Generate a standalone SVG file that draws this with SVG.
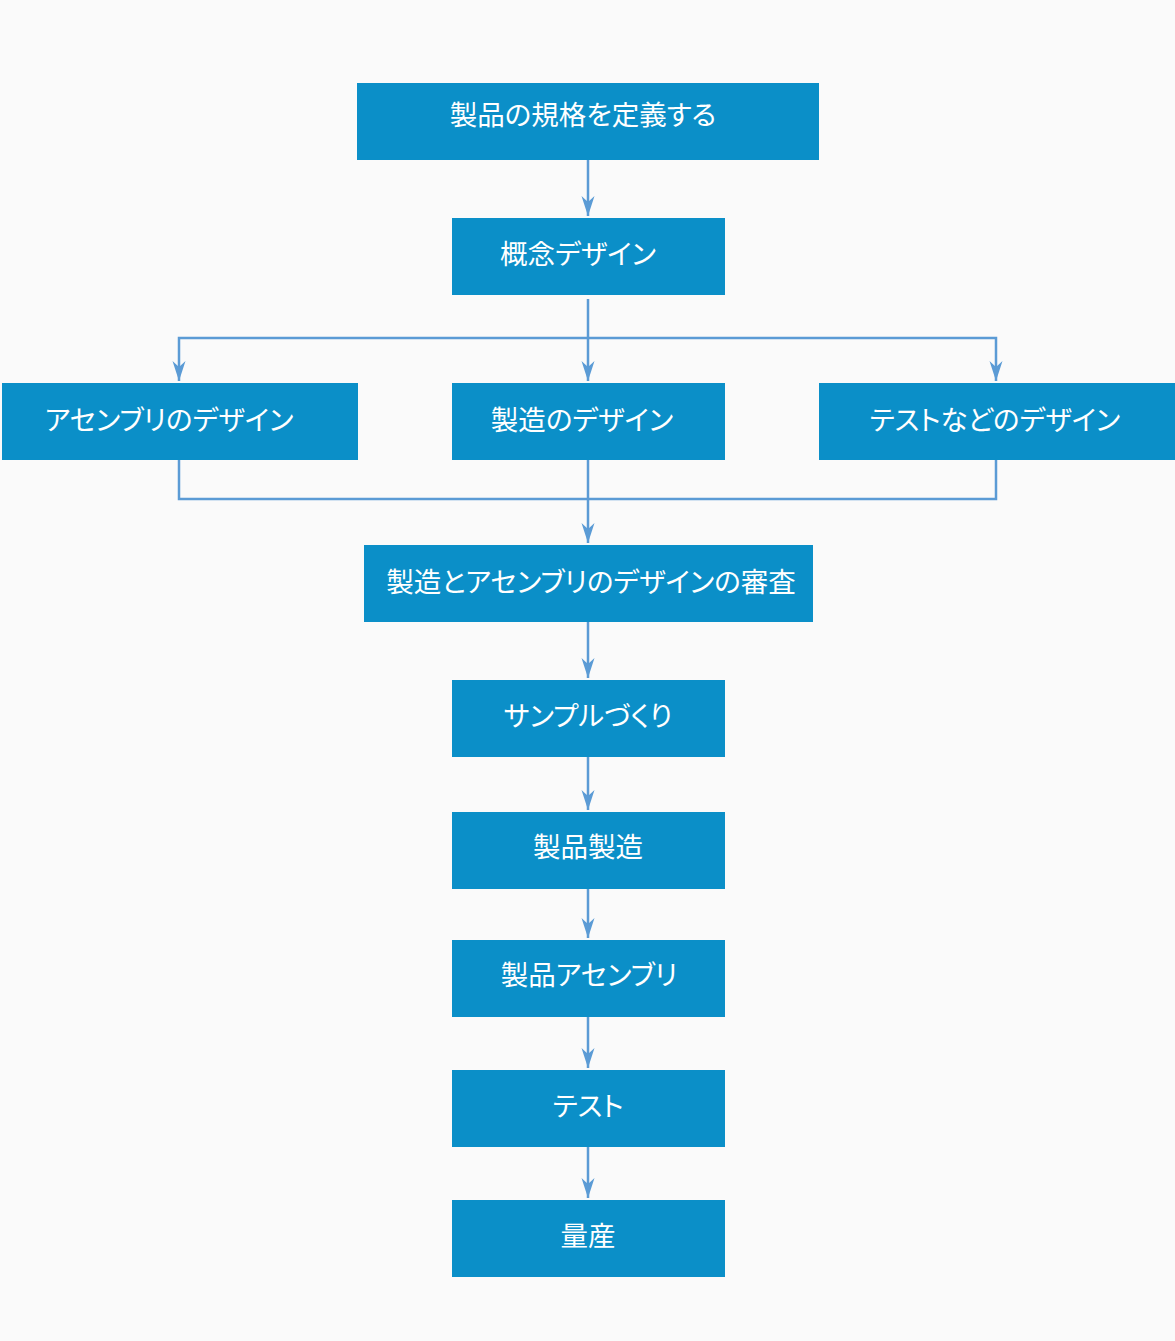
<svg xmlns="http://www.w3.org/2000/svg" width="1175" height="1341" viewBox="0 0 1175 1341">
<style>
.box{fill:#0b8fc8;}
.lbl{fill:#ffffff;font-family:"Noto Sans CJK JP","Noto Sans",sans-serif;font-size:27.5px;text-anchor:middle;font-feature-settings:"palt";}
.con{fill:none;stroke:#5b9bd5;stroke-width:2.5;}
</style>
<defs>
<marker id="ah" markerUnits="userSpaceOnUse" markerWidth="20" markerHeight="14" refX="20" refY="6.5" orient="auto">
<path d="M0,0 L20,6.5 L0,13 L6,6.5 Z" fill="#5b9bd5"/>
</marker>
</defs>
<rect x="0" y="0" width="1175" height="1341" fill="#fafafa"/>
<g id="connectors">
<path class="con" d="M588,160 V216" marker-end="url(#ah)"/>
<path class="con" d="M588,299 V381" marker-end="url(#ah)"/>
<path class="con" d="M588,338 H179 V381" marker-end="url(#ah)"/>
<path class="con" d="M588,338 H996 V381" marker-end="url(#ah)"/>
<path class="con" d="M179,460 V499 H588"/>
<path class="con" d="M996,460 V499 H588"/>
<path class="con" d="M588,460 V543" marker-end="url(#ah)"/>
<path class="con" d="M588,622 V678" marker-end="url(#ah)"/>
<path class="con" d="M588,757 V810" marker-end="url(#ah)"/>
<path class="con" d="M588,889 V938" marker-end="url(#ah)"/>
<path class="con" d="M588,1017 V1068" marker-end="url(#ah)"/>
<path class="con" d="M588,1147 V1198" marker-end="url(#ah)"/>
</g>
<g id="n1"><rect class="box" x="357" y="83" width="462" height="77"/><text class="lbl" x="583" y="125">製品の規格を定義する</text></g>
<g id="n2"><rect class="box" x="452" y="218" width="273" height="77"/><text class="lbl" x="578" y="264">概念デザイン</text></g>
<g id="n3"><rect class="box" x="2" y="383" width="356" height="77"/><text class="lbl" x="169" y="430">アセンブリのデザイン</text></g>
<g id="n4"><rect class="box" x="452" y="383" width="273" height="77"/><text class="lbl" x="582" y="430">製造のデザイン</text></g>
<g id="n5"><rect class="box" x="819" y="383" width="356" height="77"/><text class="lbl" x="995" y="430">テストなどのデザイン</text></g>
<g id="n6"><rect class="box" x="364" y="545" width="449" height="77"/><text class="lbl" x="591" y="592">製造とアセンブリのデザインの審査</text></g>
<g id="n7"><rect class="box" x="452" y="680" width="273" height="77"/><text class="lbl" x="588" y="726">サンプルづくり</text></g>
<g id="n8"><rect class="box" x="452" y="812" width="273" height="77"/><text class="lbl" x="588" y="857">製品製造</text></g>
<g id="n9"><rect class="box" x="452" y="940" width="273" height="77"/><text class="lbl" x="589" y="985">製品アセンブリ</text></g>
<g id="n10"><rect class="box" x="452" y="1070" width="273" height="77"/><text class="lbl" x="588" y="1116">テスト</text></g>
<g id="n11"><rect class="box" x="452" y="1200" width="273" height="77"/><text class="lbl" x="588" y="1246">量産</text></g>
</svg>
